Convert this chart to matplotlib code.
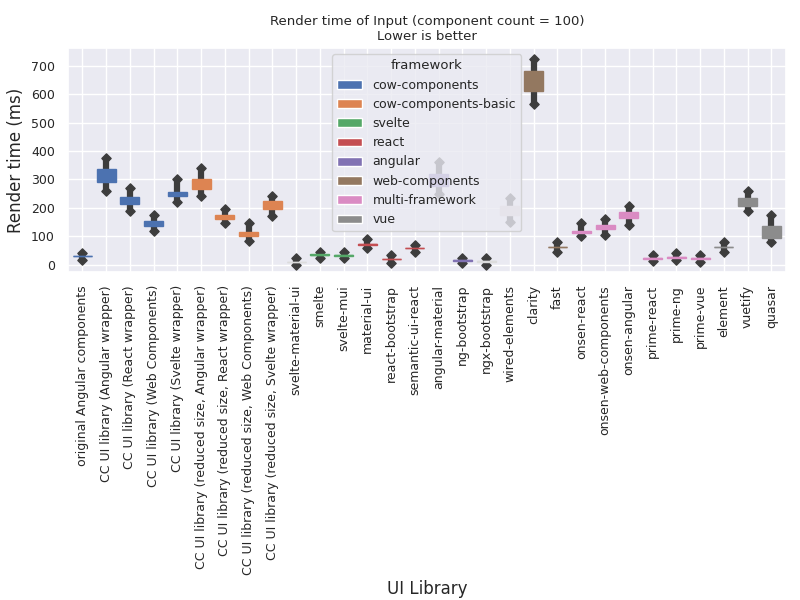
import matplotlib
matplotlib.use("Agg")
import matplotlib.pyplot as plt
import seaborn as sns
from matplotlib.patches import Patch

sns.set_theme(style="darkgrid")
plt.rcParams['font.family'] = ['DejaVu Sans']

libs = ["original Angular components", "CC UI library (Angular wrapper)", "CC UI library (React wrapper)",
        "CC UI library (Web Components)", "CC UI library (Svelte wrapper)",
        "CC UI library (reduced size, Angular wrapper)", "CC UI library (reduced size, React wrapper)",
        "CC UI library (reduced size, Web Components)", "CC UI library (reduced size, Svelte wrapper)",
        "svelte-material-ui", "smelte", "svelte-mui", "material-ui", "react-bootstrap", "semantic-ui-react",
        "angular-material", "ng-bootstrap", "ngx-bootstrap", "wired-elements", "clarity", "fast",
        "onsen-react", "onsen-web-components", "onsen-angular", "prime-react", "prime-ng", "prime-vue",
        "element", "vuetify", "quasar"]
q1 = [29, 290, 212, 135, 240, 265, 160, 100, 195, 9, 34, 32, 71, 19, 57, 275, 14, 11, 175, 610, 61,
      112, 125, 165, 21, 24, 21, 61, 205, 95]
q3 = [31, 335, 237, 155, 256, 300, 176, 116, 225, 11, 36, 34, 74, 21, 59, 320, 16, 13, 205, 680, 63,
      118, 140, 185, 23, 27, 23, 63, 235, 135]
lo = [18, 260, 190, 120, 220, 240, 145, 85, 170, 0, 25, 22, 60, 5, 45, 250, 5, 0, 150, 565, 45,
      100, 105, 140, 12, 15, 10, 45, 190, 80]
hi = [42, 375, 270, 175, 300, 340, 195, 145, 240, 25, 45, 45, 90, 35, 70, 360, 25, 22, 235, 725, 80,
      145, 160, 205, 35, 40, 35, 80, 260, 175]
colors = ["#4c72b0"] * 5 + ["#dd8452"] * 4 + ["#dcdcdc", "#55a868", "#55a868", "#c44e52", "#c44e52",
          "#c44e52", "#8172b3", "#8172b3", "#dcdcdc", "#d9d0d2", "#937860", "#937860",
          "#da8bc3", "#da8bc3", "#da8bc3", "#da8bc3", "#da8bc3", "#da8bc3", "#8c8c8c", "#8c8c8c", "#8c8c8c"]
frameworks = ["cow-components", "cow-components-basic", "svelte", "react", "angular",
              "web-components", "multi-framework", "vue"]
fw_colors = ["#4c72b0", "#dd8452", "#55a868", "#c44e52", "#8172b3", "#937860", "#da8bc3", "#8c8c8c"]

fig, ax = plt.subplots(figsize=(8, 6), dpi=100)
fig.subplots_adjust(left=0.085, right=0.982, top=0.92, bottom=0.547)
x = list(range(len(libs)))
ax.vlines(x, lo, hi, color="#3d3d3d", lw=4.5, zorder=2)
ax.scatter(x + x, lo + hi, marker="D", s=22, color="#3d3d3d", zorder=2)
for i in x:
    h = max(q3[i] - q1[i], 1.5)
    ax.bar(i, h, bottom=q1[i], width=0.8, color=colors[i], edgecolor=colors[i], zorder=3)
    ax.hlines((q1[i] + q3[i]) / 2, i - 0.4, i + 0.4, color=colors[i], lw=1, zorder=4)
ax.set_xticks(x)
ax.set_xticklabels(libs, rotation=90)
ax.set_xlim(-0.6, len(libs) - 0.4)
ax.set_ylim(-25, 762)
ax.set_yticks(range(0, 701, 100))
ax.set_xlabel("UI Library")
ax.set_ylabel("Render time (ms)")
ax.set_title("Render time of Input (component count = 100)\nLower is better", fontsize=9.5)
ax.tick_params(labelsize=9)
handles = [Patch(facecolor=c, label=f) for f, c in zip(frameworks, fw_colors)]
leg = ax.legend(handles=handles, title="framework", loc="upper center", fontsize=9, title_fontsize=9.5)
leg.set_zorder(10)
fig.savefig("out.png")
